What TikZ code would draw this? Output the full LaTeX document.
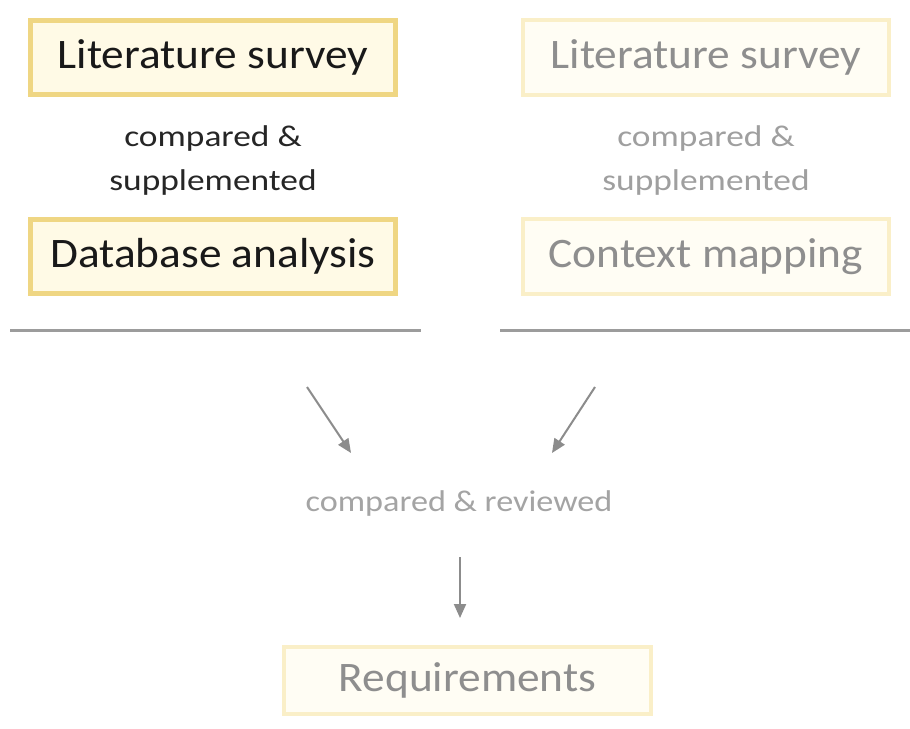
\documentclass[tikz,border=0pt]{standalone}
\usepackage{fontspec}
\setmainfont{Carlito}
\newfontfamily\bigfont{Carlito}[FakeStretch=1.08]
\newfontfamily\midfont{Carlito}[FakeStretch=1.18]
\newfontfamily\revfont{Carlito}[FakeStretch=1.14]
\usetikzlibrary{arrows.meta}
\definecolor{boxline}{HTML}{EFD683}
\definecolor{boxfill}{HTML}{FFFAE6}
\definecolor{fadeline}{HTML}{FAEFC8}
\definecolor{fadefill}{HTML}{FFFDF4}
\definecolor{fadetext}{HTML}{8E8E8E}
\definecolor{rulegray}{HTML}{9C9C9C}
\definecolor{arrowgray}{HTML}{8C8C8C}
\tikzset{
  strongbox/.style={draw=boxline, fill=boxfill, line width=5pt, minimum width=365pt, minimum height=74pt, inner sep=0pt, font=\bigfont\fontsize{42}{46}\selectfont, text=black!90},
  fadebox/.style={draw=fadeline, fill=fadefill, line width=4pt, minimum width=366pt, minimum height=75pt, inner sep=0pt, font=\bigfont\fontsize{42}{46}\selectfont, text=fadetext},
  midlabel/.style={align=center, font=\midfont\fontsize{30}{44}\selectfont, inner sep=0pt},
  sepline/.style={draw=rulegray, line width=3pt},
  flowarrow/.style={draw=arrowgray, line width=2pt, -{Triangle[length=14pt,width=12pt]}}
}
\begin{document}
\begin{tikzpicture}[x=1pt,y=-1pt]
\fill[white] (0,0) rectangle (910,728);
\useasboundingbox (0,0) rectangle (910,728);
% left column
\node[strongbox] (litL) at (213,57.5) {Literature survey};
\node[midlabel, text=black!85] (cmpL) at (213,160) {compared \&\\supplemented};
\node[strongbox] (dbL) at (213,256.5) {Database analysis};
% right column
\node[fadebox] (litR) at (706,57.5) {Literature survey};
\node[midlabel, text=fadetext!85] (cmpR) at (706,160) {compared \&\\supplemented};
\node[fadebox] (ctxR) at (706,256.5) {Context mapping};
% separator lines
\coordinate (lineLa) at (10,330);
\coordinate (lineLb) at (421,330);
\coordinate (lineRa) at (500,330);
\coordinate (lineRb) at (910,330);
\draw[sepline] (lineLa) -- (lineLb);
\draw[sepline] (lineRa) -- (lineRb);
% arrows
\coordinate (aLs) at (307,387);
\coordinate (aLe) at (351,453);
\coordinate (aRs) at (595,387);
\coordinate (aRe) at (552,453);
\draw[flowarrow] (aLs) -- (aLe);
\draw[flowarrow] (aRs) -- (aRe);
\node[font=\revfont\fontsize{30}{36}\selectfont, text=fadetext!80, inner sep=0pt] (rev) at (459,503) {compared \& reviewed};
\coordinate (aDs) at (460,557);
\coordinate (aDe) at (460,618);
\draw[flowarrow] (aDs) -- (aDe);
\node[fadebox, minimum width=367pt, minimum height=67pt] (req) at (467.5,680.5) {Requirements};
\end{tikzpicture}
\end{document}
